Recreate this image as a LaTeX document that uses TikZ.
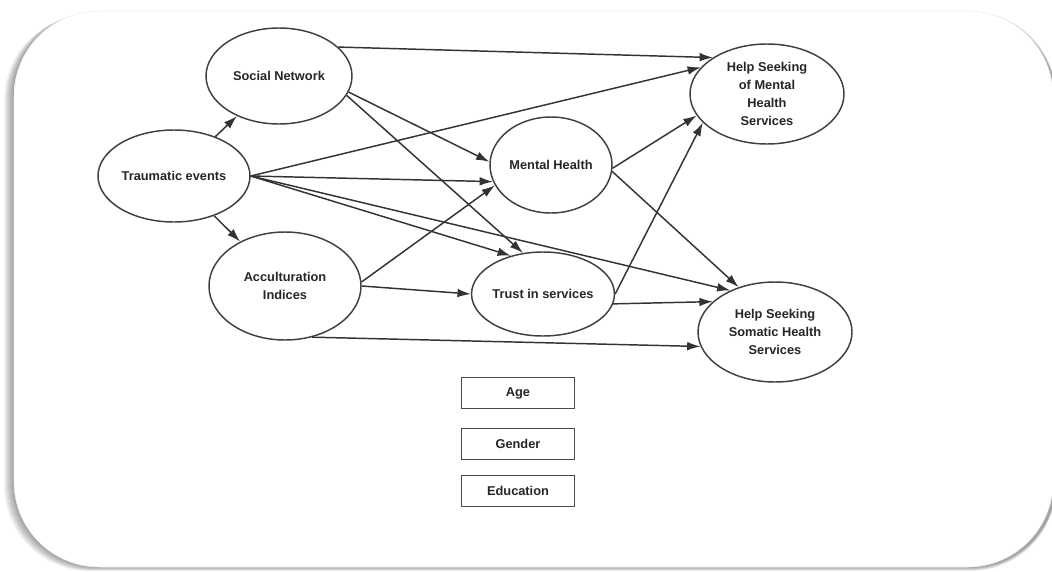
\documentclass[tikz,border=0pt]{standalone}
\usepackage{fontspec}
\setmainfont{Liberation Sans}
\usetikzlibrary{arrows.meta,shapes.geometric}

\begin{document}
\begin{tikzpicture}[x=0.75pt, y=-0.75pt,
  font=\fontsize{9.6}{13.5}\selectfont\bfseries,
  ell/.style 2 args={ellipse, draw=black!75, line width=1.1pt, inner sep=0pt, text=black!85, align=center, minimum width=#1*0.75pt, minimum height=#2*0.75pt},
  box/.style={rectangle, draw=black!70, line width=1.1pt, text=black!85, minimum width=113*0.75pt, minimum height=31*0.75pt},
  arr/.style={-{Latex[length=10pt, width=6.5pt]}, line width=1.1pt, black!80}]
\useasboundingbox (0,0) rectangle (1052,571);
% frame with shadow
\foreach \k in {1,...,10} { \fill[black, opacity=0.045, rounded corners=64pt] (14-\k,11+0.4*\k) rectangle (1056,567+0.4*\k); }
\filldraw[fill=white, draw=black!7, rounded corners=64pt] (14,11) rectangle (1053,567);
% latent variables
\node[ell={152}{92}] (trauma) at (174,176) {Traumatic events};
\node[ell={146}{96}] (sn) at (279,76) {Social Network};
\node[ell={152}{108}] (acc) at (285,286) {Acculturation\\Indices};
\node[ell={122}{96}] (mh) at (551,165) {Mental Health};
\node[ell={122}{84}] (trust) at (543,294) {Trust in services};
\node[ell={154}{100}] (hsm) at (767,94) {Help Seeking\\of Mental\\Health\\Services};
\node[ell={154}{100}] (hss) at (775,332) {Help Seeking\\Somatic Health\\Services};
% covariates
\foreach \y/\n/\t in {393/age/Age, 444/gender/Gender, 491/edu/Education} { \node[box] (\n) at (518,\y) {\t}; }
% paths
\draw[arr] (trauma) -- (sn);
\draw[arr] (trauma) -- (acc);
\draw[arr] (sn.26) -- (hsm.146);
\draw[arr] (sn.-13) -- (mh.177);
\draw[arr] (sn.-16) -- (trust.116);
\draw[arr] (trauma.east) -- (hsm.158);
\draw[arr] (trauma.east) -- (mh.196);
\draw[arr] (trauma.east) -- (trust.130);
\draw[arr] (trauma.east) -- (hss.137);
\draw[arr] (acc.3) -- (mh.200);
\draw[arr] (acc.east) -- (trust.west);
\draw[arr] (acc.-62) -- (hss.191);
\draw[arr] (mh.-3) -- (hsm.197);
\draw[arr] (mh.-6) -- (hss.129);
\draw[arr] (trust.east) -- (hsm.204);
\draw[arr] (trust.-8) -- (hss.154);
\end{tikzpicture}
\end{document}
